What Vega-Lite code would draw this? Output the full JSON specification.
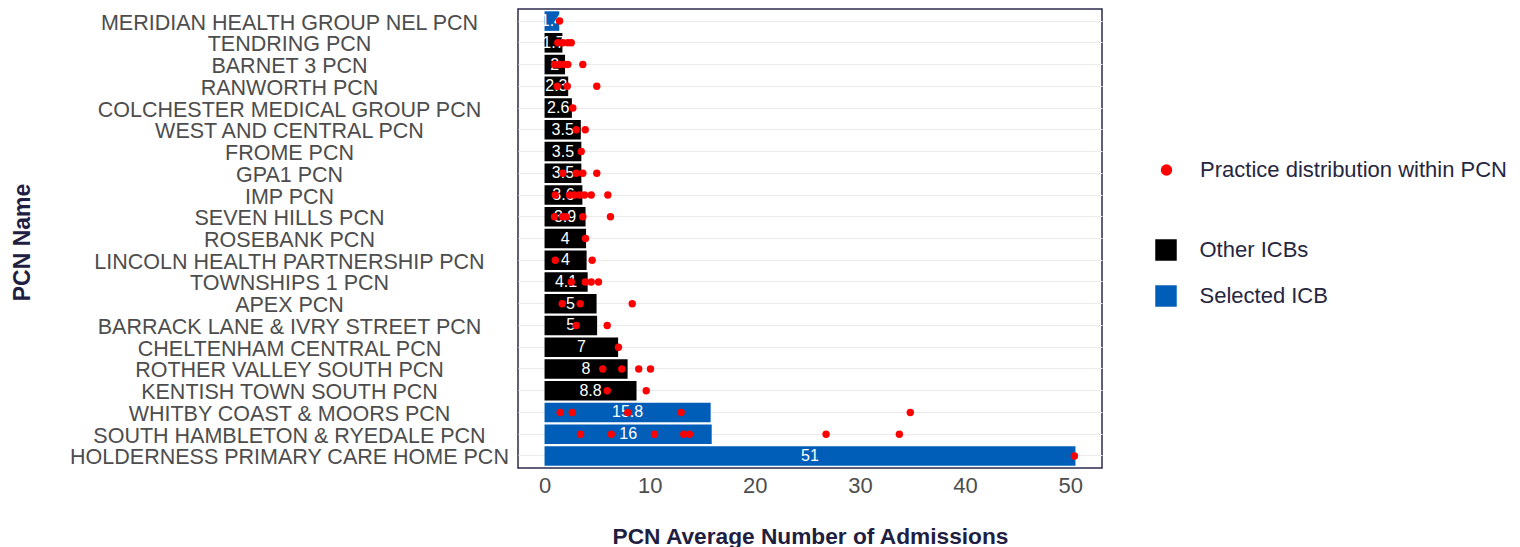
{
  "$schema": "https://vega.github.io/schema/vega-lite/v6.json",
  "autosize": {"type": "none"},
  "padding": {"left": 518, "top": 9, "right": 418, "bottom": 79},
  "width": 584,
  "height": 459,
  "background": "white",
  "config": {
    "font": "Liberation Sans",
    "view": {"stroke": "#2b2b4f", "strokeWidth": 1.5},
    "legend": {"padding": 0}
  },
  "datasets": {
    "pcns": [
      {"pcn": "MERIDIAN HEALTH GROUP NEL PCN", "avg": 1.4, "label": "1.4", "icb": "Selected ICB"},
      {"pcn": "TENDRING PCN", "avg": 1.7, "label": "1.7", "icb": "Other ICBs"},
      {"pcn": "BARNET 3 PCN", "avg": 1.95, "label": "2", "icb": "Other ICBs"},
      {"pcn": "RANWORTH PCN", "avg": 2.25, "label": "2.3", "icb": "Other ICBs"},
      {"pcn": "COLCHESTER MEDICAL GROUP PCN", "avg": 2.6, "label": "2.6", "icb": "Other ICBs"},
      {"pcn": "WEST AND CENTRAL PCN", "avg": 3.45, "label": "3.5", "icb": "Other ICBs"},
      {"pcn": "FROME PCN", "avg": 3.5, "label": "3.5", "icb": "Other ICBs"},
      {"pcn": "GPA1 PCN", "avg": 3.5, "label": "3.5", "icb": "Other ICBs"},
      {"pcn": "IMP PCN", "avg": 3.6, "label": "3.6", "icb": "Other ICBs"},
      {"pcn": "SEVEN HILLS PCN", "avg": 3.9, "label": "3.9", "icb": "Other ICBs"},
      {"pcn": "ROSEBANK PCN", "avg": 3.95, "label": "4", "icb": "Other ICBs"},
      {"pcn": "LINCOLN HEALTH PARTNERSHIP PCN", "avg": 4.0, "label": "4", "icb": "Other ICBs"},
      {"pcn": "TOWNSHIPS 1 PCN", "avg": 4.1, "label": "4.1", "icb": "Other ICBs"},
      {"pcn": "APEX PCN", "avg": 4.95, "label": "5", "icb": "Other ICBs"},
      {"pcn": "BARRACK LANE & IVRY STREET PCN", "avg": 5.0, "label": "5", "icb": "Other ICBs"},
      {"pcn": "CHELTENHAM CENTRAL PCN", "avg": 7.0, "label": "7", "icb": "Other ICBs"},
      {"pcn": "ROTHER VALLEY SOUTH PCN", "avg": 7.9, "label": "8", "icb": "Other ICBs"},
      {"pcn": "KENTISH TOWN SOUTH PCN", "avg": 8.75, "label": "8.8", "icb": "Other ICBs"},
      {"pcn": "WHITBY COAST & MOORS PCN", "avg": 15.8, "label": "15.8", "icb": "Selected ICB"},
      {"pcn": "SOUTH HAMBLETON & RYEDALE PCN", "avg": 15.9, "label": "16", "icb": "Selected ICB"},
      {"pcn": "HOLDERNESS PRIMARY CARE HOME PCN", "avg": 50.5, "label": "51", "icb": "Selected ICB"}
    ],
    "practices": [
      {"pcn": "MERIDIAN HEALTH GROUP NEL PCN", "value": 1.43},
      {"pcn": "TENDRING PCN", "value": 1.26},
      {"pcn": "TENDRING PCN", "value": 1.74},
      {"pcn": "TENDRING PCN", "value": 2.21},
      {"pcn": "TENDRING PCN", "value": 2.54},
      {"pcn": "BARNET 3 PCN", "value": 0.95},
      {"pcn": "BARNET 3 PCN", "value": 1.43},
      {"pcn": "BARNET 3 PCN", "value": 1.9},
      {"pcn": "BARNET 3 PCN", "value": 2.21},
      {"pcn": "BARNET 3 PCN", "value": 3.64},
      {"pcn": "RANWORTH PCN", "value": 1.21},
      {"pcn": "RANWORTH PCN", "value": 2.16},
      {"pcn": "RANWORTH PCN", "value": 4.97},
      {"pcn": "COLCHESTER MEDICAL GROUP PCN", "value": 2.69},
      {"pcn": "WEST AND CENTRAL PCN", "value": 3.01},
      {"pcn": "WEST AND CENTRAL PCN", "value": 3.87},
      {"pcn": "FROME PCN", "value": 3.49},
      {"pcn": "GPA1 PCN", "value": 1.74},
      {"pcn": "GPA1 PCN", "value": 3.01},
      {"pcn": "GPA1 PCN", "value": 3.64},
      {"pcn": "GPA1 PCN", "value": 4.97},
      {"pcn": "IMP PCN", "value": 1.02},
      {"pcn": "IMP PCN", "value": 2.38},
      {"pcn": "IMP PCN", "value": 2.85},
      {"pcn": "IMP PCN", "value": 3.33},
      {"pcn": "IMP PCN", "value": 3.8},
      {"pcn": "IMP PCN", "value": 4.44},
      {"pcn": "IMP PCN", "value": 6.02},
      {"pcn": "SEVEN HILLS PCN", "value": 0.95},
      {"pcn": "SEVEN HILLS PCN", "value": 1.71},
      {"pcn": "SEVEN HILLS PCN", "value": 2.06},
      {"pcn": "SEVEN HILLS PCN", "value": 3.64},
      {"pcn": "SEVEN HILLS PCN", "value": 6.27},
      {"pcn": "ROSEBANK PCN", "value": 3.9},
      {"pcn": "LINCOLN HEALTH PARTNERSHIP PCN", "value": 1.02},
      {"pcn": "LINCOLN HEALTH PARTNERSHIP PCN", "value": 4.53},
      {"pcn": "TOWNSHIPS 1 PCN", "value": 2.54},
      {"pcn": "TOWNSHIPS 1 PCN", "value": 3.87},
      {"pcn": "TOWNSHIPS 1 PCN", "value": 4.44},
      {"pcn": "TOWNSHIPS 1 PCN", "value": 5.13},
      {"pcn": "APEX PCN", "value": 1.68},
      {"pcn": "APEX PCN", "value": 3.39},
      {"pcn": "APEX PCN", "value": 8.34},
      {"pcn": "BARRACK LANE & IVRY STREET PCN", "value": 3.01},
      {"pcn": "BARRACK LANE & IVRY STREET PCN", "value": 5.96},
      {"pcn": "CHELTENHAM CENTRAL PCN", "value": 7.03},
      {"pcn": "ROTHER VALLEY SOUTH PCN", "value": 5.54},
      {"pcn": "ROTHER VALLEY SOUTH PCN", "value": 7.35},
      {"pcn": "ROTHER VALLEY SOUTH PCN", "value": 8.96},
      {"pcn": "ROTHER VALLEY SOUTH PCN", "value": 10.08},
      {"pcn": "KENTISH TOWN SOUTH PCN", "value": 5.96},
      {"pcn": "KENTISH TOWN SOUTH PCN", "value": 9.67},
      {"pcn": "WHITBY COAST & MOORS PCN", "value": 1.49},
      {"pcn": "WHITBY COAST & MOORS PCN", "value": 2.63},
      {"pcn": "WHITBY COAST & MOORS PCN", "value": 7.92},
      {"pcn": "WHITBY COAST & MOORS PCN", "value": 12.99},
      {"pcn": "WHITBY COAST & MOORS PCN", "value": 34.79},
      {"pcn": "SOUTH HAMBLETON & RYEDALE PCN", "value": 3.42},
      {"pcn": "SOUTH HAMBLETON & RYEDALE PCN", "value": 6.34},
      {"pcn": "SOUTH HAMBLETON & RYEDALE PCN", "value": 10.46},
      {"pcn": "SOUTH HAMBLETON & RYEDALE PCN", "value": 13.24},
      {"pcn": "SOUTH HAMBLETON & RYEDALE PCN", "value": 13.78},
      {"pcn": "SOUTH HAMBLETON & RYEDALE PCN", "value": 26.78},
      {"pcn": "SOUTH HAMBLETON & RYEDALE PCN", "value": 33.75},
      {"pcn": "HOLDERNESS PRIMARY CARE HOME PCN", "value": 50.4}
    ]
  },
  "encoding": {
    "y": {
      "field": "pcn",
      "type": "nominal",
      "scale": {
        "domain": ["MERIDIAN HEALTH GROUP NEL PCN", "TENDRING PCN", "BARNET 3 PCN", "RANWORTH PCN", "COLCHESTER MEDICAL GROUP PCN", "WEST AND CENTRAL PCN", "FROME PCN", "GPA1 PCN", "IMP PCN", "SEVEN HILLS PCN", "ROSEBANK PCN", "LINCOLN HEALTH PARTNERSHIP PCN", "TOWNSHIPS 1 PCN", "APEX PCN", "BARRACK LANE & IVRY STREET PCN", "CHELTENHAM CENTRAL PCN", "ROTHER VALLEY SOUTH PCN", "KENTISH TOWN SOUTH PCN", "WHITBY COAST & MOORS PCN", "SOUTH HAMBLETON & RYEDALE PCN", "HOLDERNESS PRIMARY CARE HOME PCN"],
        "paddingInner": 0.1,
        "paddingOuter": 0.105
      },
      "axis": {
        "title": "PCN Name",
        "titleFont": "Liberation Sans",
        "titleFontSize": 23,
        "titleFontWeight": "bold",
        "titleColor": "#1f2041",
        "titleX": -489,
        "titleY": 233,
        "titleBaseline": "alphabetic",
        "titleAngle": -90,
        "labelFontSize": 21.5,
        "labelColor": "#4d4d4d",
        "labelAlign": "center",
        "labelBaseline": "middle",
        "labelPadding": 229,
        "labelOffset": 2.5,
        "labelLimit": 0,
        "ticks": false,
        "tickSize": 0,
        "domain": false,
        "grid": true,
        "gridColor": "#ebebeb",
        "gridWidth": 1
      }
    }
  },
  "layer": [
    {
      "data": {"name": "pcns"},
      "mark": {"type": "bar"},
      "encoding": {
        "x": {
          "field": "avg",
          "type": "quantitative",
          "scale": {"domain": [-2.525, 53.025], "nice": false, "zero": false},
          "axis": {
            "title": "PCN Average Number of Admissions",
            "titleFontSize": 22.7,
            "titleFontWeight": "bold",
            "titleColor": "#1f2041",
            "titleY": 75,
            "titleBaseline": "alphabetic",
            "values": [0, 10, 20, 30, 40, 50],
            "labelFontSize": 22,
            "labelColor": "#4d4d4d",
            "labelPadding": 7,
            "ticks": false,
            "tickSize": 0,
            "domain": false,
            "grid": false
          }
        },
        "color": {
          "field": "icb",
          "type": "nominal",
          "scale": {"domain": ["Other ICBs", "Selected ICB"], "range": ["#000000", "#005EB8"]},
          "legend": {
            "title": null,
            "orient": "none",
            "legendX": 637,
            "legendY": 230,
            "symbolType": "square",
            "symbolSize": 462,
            "symbolStrokeWidth": 0,
            "labelFontSize": 22,
            "labelColor": "#262640",
            "labelOffset": 22.5,
            "labelLimit": 0,
            "rowPadding": 24
          }
        }
      }
    },
    {
      "data": {"name": "pcns"},
      "mark": {"type": "text", "color": "white", "fontSize": 16, "baseline": "middle", "align": "center"},
      "encoding": {
        "x": {"field": "avg", "type": "quantitative", "stack": "zero", "bandPosition": 0.5},
        "text": {"field": "label", "type": "nominal"}
      }
    },
    {
      "data": {"name": "practices"},
      "mark": {"type": "point", "filled": true, "color": "#FF0000", "size": 55, "opacity": 1},
      "encoding": {
        "x": {"field": "value", "type": "quantitative"},
        "shape": {
          "datum": "Practice distribution within PCN",
          "scale": {"range": ["circle"]},
          "legend": {
            "title": null,
            "orient": "none",
            "legendX": 637.5,
            "legendY": 150,
            "symbolSize": 130,
            "symbolFillColor": "#FF0000",
            "symbolStrokeWidth": 0,
            "labelFontSize": 22,
            "labelColor": "#262640",
            "labelOffset": 22.6,
            "labelLimit": 0
          }
        }
      }
    }
  ]
}
